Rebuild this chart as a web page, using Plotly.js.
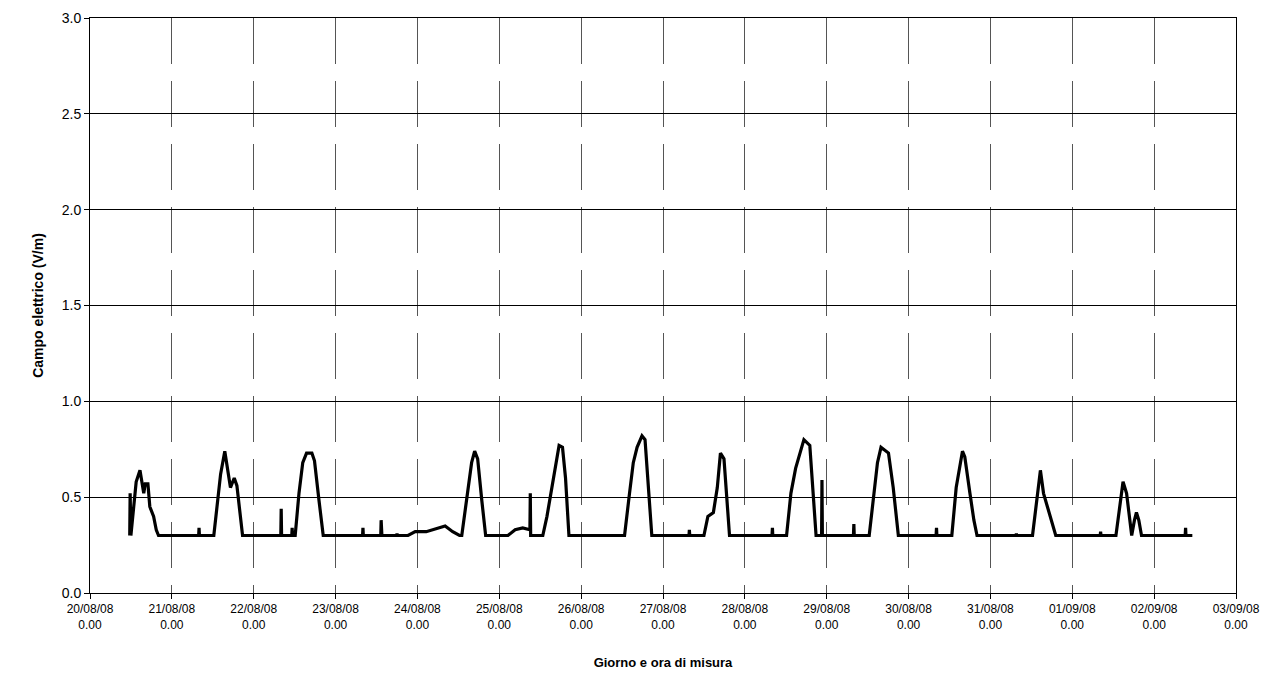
<!DOCTYPE html>
<html>
<head>
<meta charset="utf-8">
<script src="https://cdn.plot.ly/plotly-3.0.1.min.js"></script>
<style>body{margin:0;background:#fff}#chart{width:1271px;height:697px}</style>
</head>
<body>
<div id="chart"></div>
<script>
// hours since 20/08/08 0.00
const hours = [
  11.65, 11.77, 11.99, 12.76, 13.54, 14.65, 15.32, 15.76, 16.2, 16.98, 17.54, 18.65, 19.42, 20.09,
  31.86, 31.97, 32.08,
  36.3, 37.19, 38.29, 39.52, 40.29, 41.18, 42.29, 43.07, 44.73,
  55.94, 56.06, 56.17, 59.16, 59.27, 59.39,
  60.16, 61.27, 62.38, 63.49, 65.05, 65.82, 67.16, 68.38,
  79.92, 80.03, 80.14, 85.25, 85.36, 85.58, 89.91, 90.02, 90.13,
  93.24, 95.35, 98.57, 101.9, 104.12, 106.34, 108.34,
  109.0, 110.45, 111.89, 112.78, 113.66, 114.89, 116.0,
  122.54, 124.65, 126.87, 128.98, 129.09, 129.2, 131.76,
  132.76, 133.98, 135.42, 136.75, 137.53, 138.53, 139.42, 140.42,
  156.73, 158.18, 159.29, 160.4, 161.84, 162.73, 163.61, 164.72,
  175.62, 175.73, 175.85,
  180.0, 181.16, 182.77, 183.92, 184.84, 185.88, 187.5,
  199.96, 200.08, 200.19,
  204.23, 205.5, 206.88, 208.15, 209.31, 211.04, 211.96, 212.88, 214.5, 214.61, 214.73,
  223.84, 223.96, 224.07,
  228.46, 229.73, 230.88, 231.92, 234.11, 235.5, 237.0,
  248.07, 248.19, 248.3,
  252.68, 253.96, 255.8, 256.49, 257.99, 259.15, 260.07,
  271.5, 271.61, 271.73,
  276.34, 277.61, 278.65, 279.57, 280.73, 282.0, 283.15,
  296.19, 296.3, 296.42,
  300.8, 301.96, 302.88, 303.92, 305.42, 306.23, 306.81, 307.5, 308.3,
  321.1, 321.22, 321.33, 323.2
];
const campo = [
  0.30, 0.52, 0.30, 0.45, 0.58, 0.64, 0.55, 0.52, 0.57, 0.57, 0.45, 0.40, 0.33, 0.30,
  0.30, 0.34, 0.30,
  0.30, 0.45, 0.62, 0.74, 0.66, 0.55, 0.60, 0.56, 0.30,
  0.30, 0.44, 0.30, 0.30, 0.34, 0.30,
  0.30, 0.52, 0.68, 0.73, 0.73, 0.69, 0.48, 0.30,
  0.30, 0.34, 0.30, 0.30, 0.38, 0.30, 0.30, 0.31, 0.30,
  0.30, 0.32, 0.32, 0.34, 0.35, 0.32, 0.30,
  0.30, 0.50, 0.68, 0.74, 0.70, 0.48, 0.30,
  0.30, 0.33, 0.34, 0.33, 0.52, 0.30, 0.30,
  0.30, 0.40, 0.55, 0.68, 0.77, 0.76, 0.60, 0.30,
  0.30, 0.52, 0.68, 0.76, 0.82, 0.80, 0.58, 0.30,
  0.30, 0.33, 0.30,
  0.30, 0.40, 0.42, 0.55, 0.73, 0.70, 0.30,
  0.30, 0.34, 0.30,
  0.30, 0.52, 0.65, 0.73, 0.80, 0.77, 0.56, 0.30, 0.30, 0.59, 0.30,
  0.30, 0.36, 0.30,
  0.30, 0.50, 0.68, 0.76, 0.73, 0.55, 0.30,
  0.30, 0.34, 0.30,
  0.30, 0.55, 0.74, 0.71, 0.52, 0.38, 0.30,
  0.30, 0.31, 0.30,
  0.30, 0.50, 0.64, 0.52, 0.45, 0.36, 0.30,
  0.30, 0.32, 0.30,
  0.30, 0.45, 0.58, 0.52, 0.30, 0.38, 0.42, 0.38, 0.30,
  0.30, 0.34, 0.30, 0.30
];
const dayLabels = ['20/08/08', '21/08/08', '22/08/08', '23/08/08', '24/08/08', '25/08/08', '26/08/08',
  '27/08/08', '28/08/08', '29/08/08', '30/08/08', '31/08/08', '01/09/08', '02/09/08', '03/09/08'];

const tickVals = dayLabels.map((d, i) => i * 24);
const tickText = dayLabels.map(d => d + '<br>0.00');

const trace = {
  x: hours, y: campo, type: 'scatter', mode: 'lines',
  line: { color: '#000', width: 3.2 }, hoverinfo: 'skip'
};

const layout = {
  width: 1271, height: 697,
  margin: { l: 90, r: 35, t: 18, b: 104 },
  paper_bgcolor: '#fff', plot_bgcolor: '#fff',
  font: { family: 'Liberation Sans, Arial, sans-serif', size: 12, color: '#000' },
  showlegend: false,
  xaxis: {
    range: [0, 336], tickvals: tickVals, ticktext: tickText,
    showgrid: true, gridcolor: '#555', gridwidth: 1, griddash: '46px,17px',
    showline: true, linecolor: '#000', linewidth: 1, mirror: true,
    ticks: 'outside', ticklen: 5, tickcolor: '#000', zeroline: false,
    title: { text: '<b>Giorno e ora di misura</b>', font: { size: 13 }, standoff: 26 }
  },
  yaxis: {
    range: [0, 3], dtick: 0.5, tickformat: '.1f',
    showgrid: true, gridcolor: '#000', gridwidth: 1,
    showline: true, linecolor: '#000', linewidth: 1, mirror: true,
    ticks: 'outside', ticklen: 5, tickcolor: '#000', zeroline: false,
    tickfont: { size: 14 },
    title: { text: '<b>Campo elettrico (V/m)</b>', font: { size: 14 }, standoff: 14 }
  }
};

Plotly.newPlot('chart', [trace], layout, { staticPlot: true });
</script>
</body>
</html>
